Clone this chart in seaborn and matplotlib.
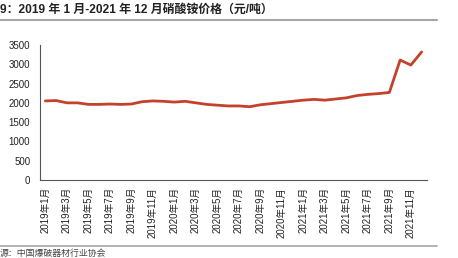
import matplotlib
matplotlib.use("Agg")
import matplotlib.pyplot as plt
import seaborn as sns
import pandas as pd
import numpy as np
from matplotlib.lines import Line2D

months = [f"{y}年{m}月" for y in (2019, 2020, 2021) for m in range(1, 13)]
prices = [2050, 2060, 2000, 2000, 1960, 1960, 1970, 1960, 1970, 2030, 2050, 2040,
          2020, 2040, 2000, 1960, 1940, 1920, 1920, 1900, 1950, 1980, 2010, 2040,
          2070, 2090, 2070, 2100, 2130, 2190, 2220, 2240, 2270, 3110, 2980, 3320]
yticks = [0, 500, 1000, 1500, 2000, 2500, 3000, 3500]
title = "9：2019 年 1 月-2021 年 12 月硝酸铵价格（元/吨）"
source = "源：中国爆破器材行业协会"

sns.set_style("white")
plt.rcParams['font.family'] = ['Liberation Sans', 'Noto Sans CJK SC', 'DejaVu Sans']

df = pd.DataFrame({"idx": np.arange(len(months)), "month": months, "price": prices})

fig = plt.figure(figsize=(4.58, 2.58), dpi=100)
ax = fig.add_axes([40/458, 1-180/258, (427-40)/458, (180-45)/258])
sns.lineplot(data=df, x="idx", y="price", ax=ax, color="#C4422B", linewidth=2.0)

ax.set_xlim(-0.5, len(months)-0.5)
ax.set_ylim(0, 3500)
ax.set_yticks(yticks)
ax.set_yticklabels([str(v) for v in yticks], fontsize=7, color="#222222")
ax.set_xticks(np.arange(-0.5, len(months), 2))
ax.set_xticklabels([])
ax.set_xticks(np.arange(0, len(months), 2), minor=True)
ax.set_xticklabels(months[::2], minor=True, rotation=90, fontsize=6.9, color="#222222")
ax.tick_params(axis='x', which='major', length=3, width=0.8, color="#555555", direction='out')
ax.tick_params(axis='x', which='minor', length=0, pad=5)
ax.tick_params(axis='y', length=3, width=0.8, color="#555555", direction='out', pad=4)
ax.set_xlabel("")
ax.set_ylabel("")
for s in ("top", "right"):
    ax.spines[s].set_visible(False)
for s in ("left", "bottom"):
    ax.spines[s].set_color("#555555")
    ax.spines[s].set_linewidth(0.8)

fig.text(0.0, 1-10/258, title, fontsize=8.6, fontweight='bold', color="#222222",
         va='center', ha='left')
fig.add_artist(Line2D([0, 437/458], [1-20/258, 1-20/258], color="#A6A6A6", linewidth=1.5))
fig.add_artist(Line2D([0, 437/458], [1-246/258, 1-246/258], color="#A6A6A6", linewidth=1.2))
fig.text(0.0, 1-253/258, source, fontsize=6.4, color="#444444", va='center', ha='left')

fig.savefig("out.png", dpi=100)
